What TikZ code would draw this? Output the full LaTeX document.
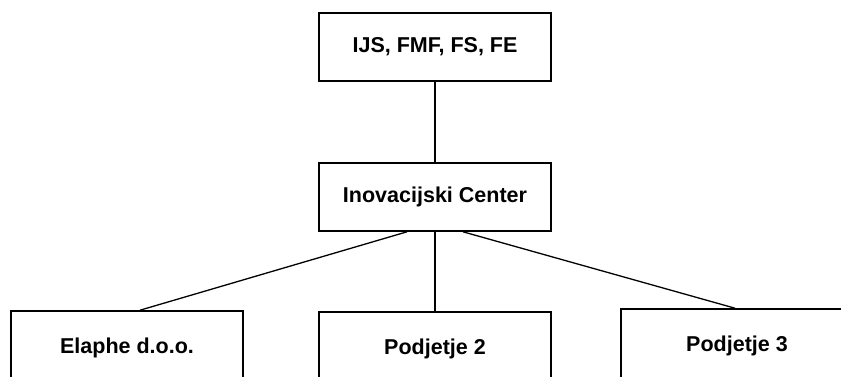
\documentclass[tikz,border=0pt]{standalone}
\usepackage{fontspec}
\setmainfont{Liberation Sans}
\begin{document}
\begin{tikzpicture}[x=1pt,y=-1pt,
  box/.style={draw=black,line width=1.6pt,fill=white,minimum width=232pt,minimum height=68pt,inner sep=0pt,
    font=\fontsize{21.5}{25}\selectfont\bfseries},
  low/.style={box,minimum height=74pt},
  link/.style={draw=black,line width=1.3pt}]
\useasboundingbox (0,0) rectangle (841,376);
\clip (0,0) rectangle (841,376);
\fill[white] (0,0) rectangle (841,376);
\node[box] (top) at (435,47) {IJS, FMF, FS, FE};
\node[box] (mid) at (435,197) {Inovacijski Center};
\node[low] (left) at (127,348) {Elaphe d.o.o.};
\node[low] (cen) at (435,349) {Podjetje 2};
\node[low] (right) at (737,346) {Podjetje 3};
\draw[link] (top.south) -- (mid.north);
\draw[link] (mid.south) -- (cen.north);
\draw[link] ([xshift=-28pt]mid.south) -- ([xshift=13pt]left.north);
\draw[link] ([xshift=28pt]mid.south) -- ([xshift=-2pt]right.north);
\end{tikzpicture}
\end{document}
